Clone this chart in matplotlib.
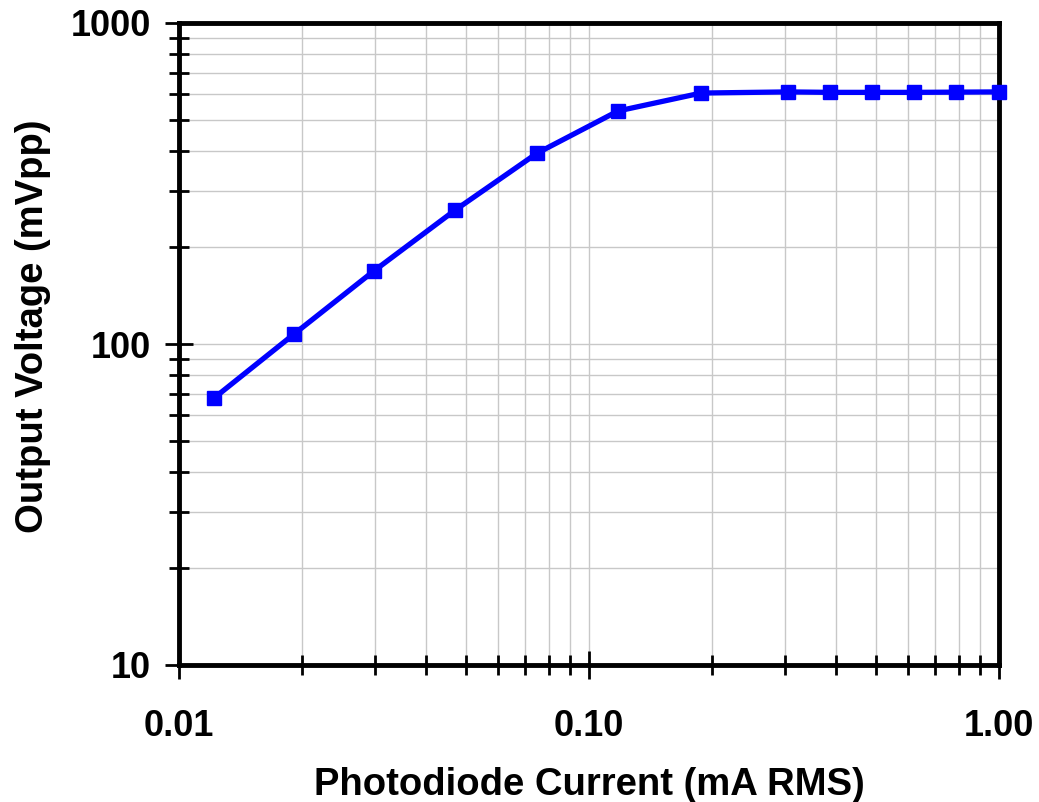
import numpy as np
import matplotlib
matplotlib.use('Agg')
import matplotlib.pyplot as plt
from matplotlib.ticker import FixedLocator, LogLocator, NullFormatter

plt.rcParams['font.family'] = ['Liberation Sans', 'DejaVu Sans']
plt.rcParams['font.weight'] = 'bold'

# 데이터
current_ma = [0.0122, 0.0191, 0.0299, 0.0471, 0.0747, 0.1177, 0.1876,
              0.3056, 0.387, 0.490, 0.621, 0.785, 1.0]
output_mvpp = [68, 107.5, 169, 261, 393, 532, 605, 610, 608, 608, 608, 609, 610]

x_ticks = [0.01, 0.1, 1.0]
x_labels = ['0.01', '0.10', '1.00']
y_ticks = [10, 100, 1000]
y_labels = ['10', '100', '1000']

fig = plt.figure(figsize=(10.39, 8.02), dpi=100)
ax = fig.add_axes([179 / 1039, 1 - 665 / 802, 820 / 1039, 642 / 802])

ax.plot(current_ma, output_mvpp, color='#0000ff', lw=3.8, marker='s',
        markersize=10.5, clip_on=False, zorder=5)

ax.set_xscale('log')
ax.set_yscale('log')
ax.set_xlim(0.01, 1.0)
ax.set_ylim(10, 1000)

ax.xaxis.set_major_locator(FixedLocator(x_ticks))
ax.set_xticklabels(x_labels)
ax.yaxis.set_major_locator(FixedLocator(y_ticks))
ax.set_yticklabels(y_labels)
ax.xaxis.set_minor_locator(LogLocator(base=10, subs=np.arange(2, 10)))
ax.yaxis.set_minor_locator(LogLocator(base=10, subs=np.arange(2, 10)))
ax.xaxis.set_minor_formatter(NullFormatter())
ax.yaxis.set_minor_formatter(NullFormatter())

ax.grid(True, which='both', color='#c8c8c8', lw=1)
ax.set_axisbelow(True)

for s in ax.spines.values():
    s.set_linewidth(3.5)

ax.tick_params(axis='both', which='major', direction='inout', length=20,
               width=2, labelsize=26)
ax.tick_params(axis='both', which='minor', direction='inout', length=14,
               width=2)
ax.tick_params(axis='y', which='major', pad=10)
ax.tick_params(axis='x', which='major', pad=22)

ax.set_xlabel('Photodiode Current (mA RMS)', fontsize=27.5, fontweight='bold',
              labelpad=16)
ax.set_ylabel('Output Voltage (mVpp)', fontsize=27.5, fontweight='bold')
ax.yaxis.set_label_coords(-0.156, 0.528)

fig.savefig('out.png', dpi=100)
